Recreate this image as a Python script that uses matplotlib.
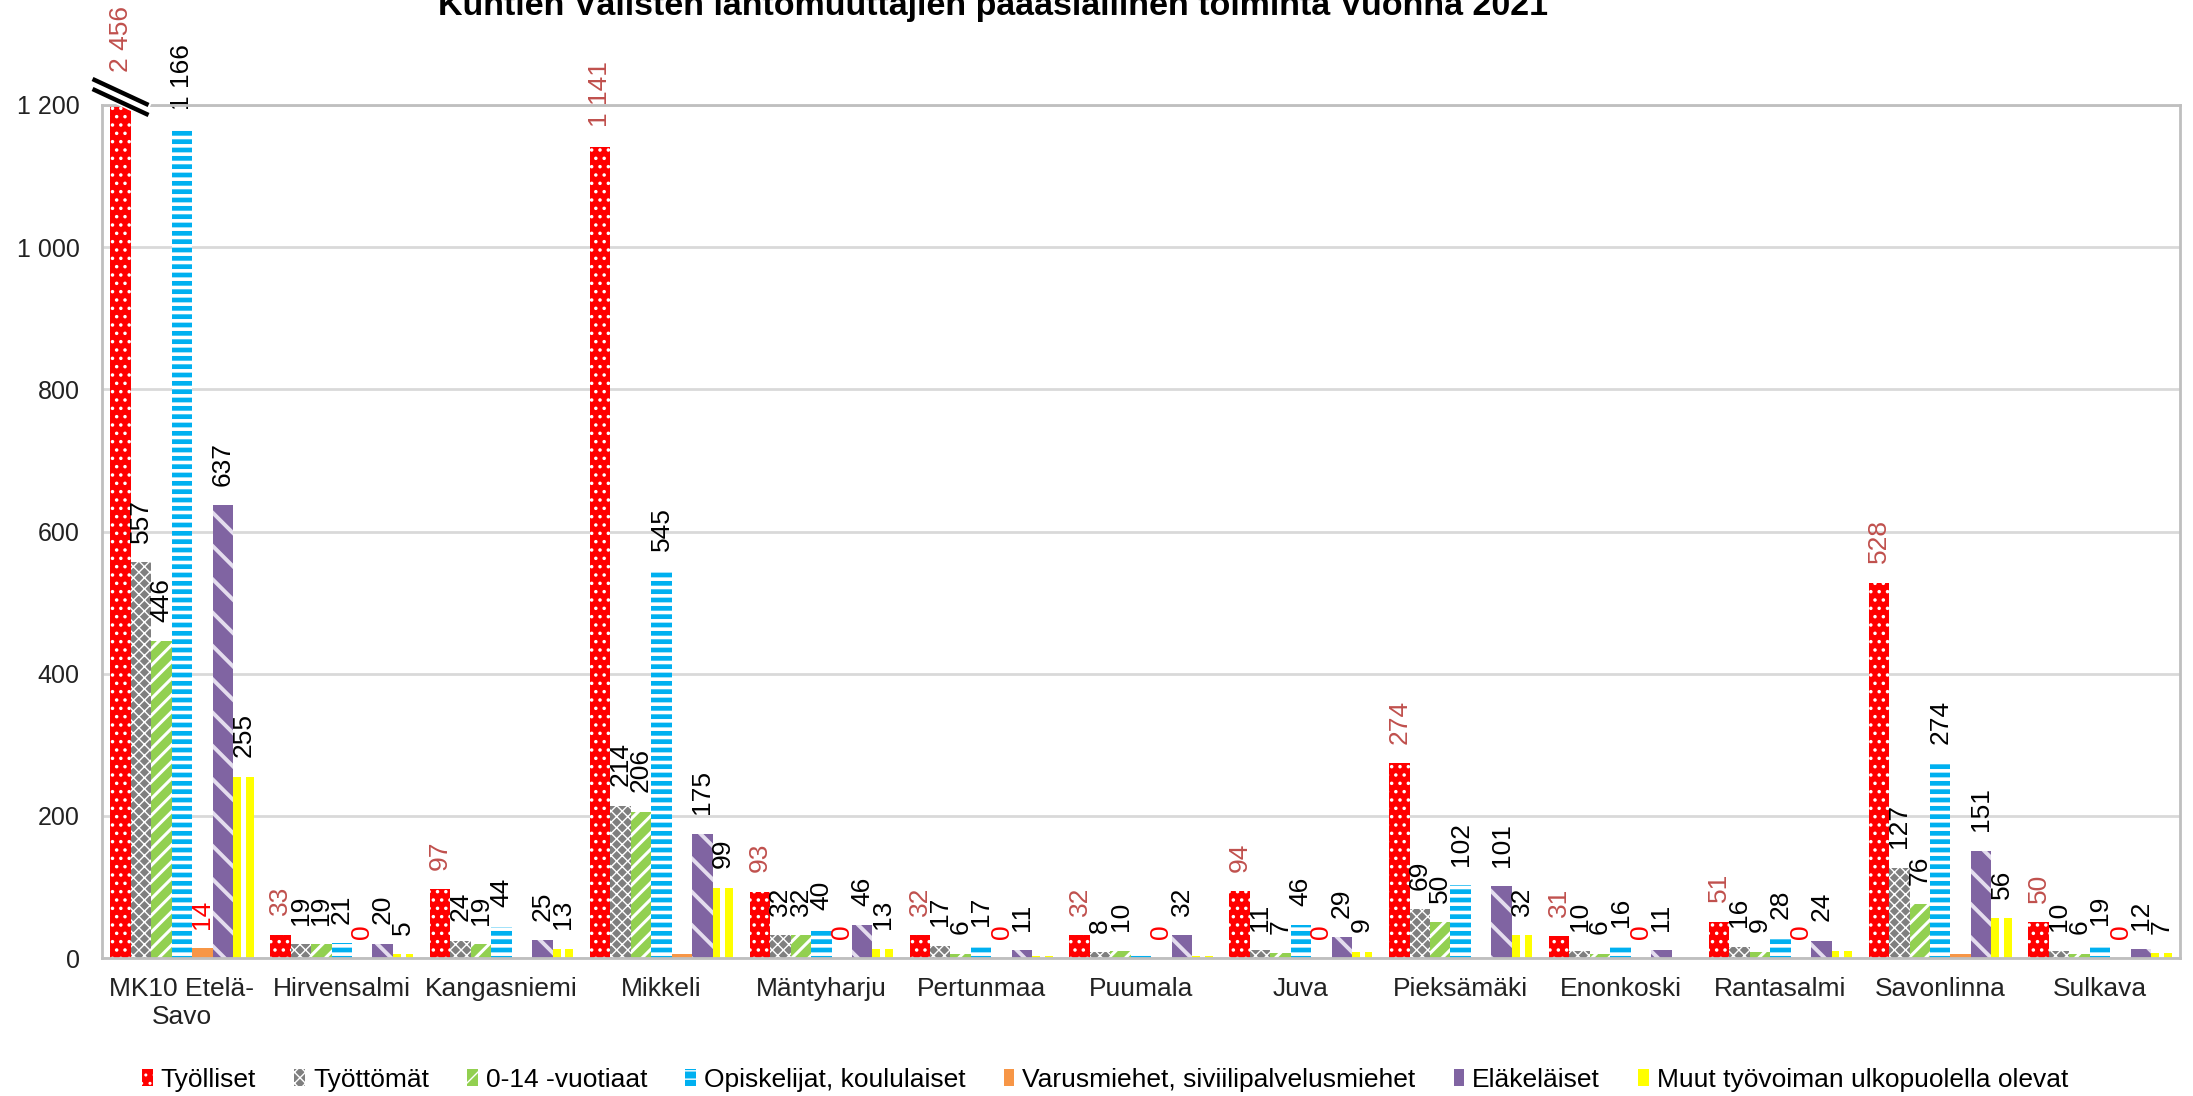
import matplotlib.pyplot as plt
import numpy as np
from matplotlib.lines import Line2D
from matplotlib.transforms import IdentityTransform

# data
categories = ['MK10 Etelä-\nSavo', 'Hirvensalmi', 'Kangasniemi', 'Mikkeli', 'Mäntyharju',
              'Pertunmaa', 'Puumala', 'Juva', 'Pieksämäki', 'Enonkoski', 'Rantasalmi',
              'Savonlinna', 'Sulkava']
tyolliset = [2456, 33, 97, 1141, 93, 32, 32, 94, 274, 31, 51, 528, 50]
tyottomat = [557, 19, 24, 214, 32, 17, 8, 11, 69, 10, 16, 127, 10]
lapset = [446, 19, 19, 206, 32, 6, 10, 7, 50, 6, 9, 76, 6]
opiskelijat = [1166, 21, 44, 545, 40, 17, 5, 46, 102, 16, 28, 274, 19]
varusmiehet = [14, 0, 0, 5, 0, 0, 0, 0, 0, 0, 0, 5, 0]
elakelaiset = [637, 20, 25, 175, 46, 11, 32, 29, 101, 11, 24, 151, 12]
muut = [255, 5, 13, 99, 13, 3, 3, 9, 32, 0, 10, 56, 7]

names = ['Työlliset', 'Työttömät', '0-14 -vuotiaat', 'Opiskelijat, koululaiset',
         'Varusmiehet, siviilipalvelusmiehet', 'Eläkeläiset',
         'Muut työvoiman ulkopuolella olevat']
series = [tyolliset, tyottomat, lapset, opiskelijat, varusmiehet, elakelaiset, muut]

# labels that are not shown in the original (series index, group index)
hidden = {(4, 2), (4, 3), (4, 8), (4, 11), (3, 6), (6, 5), (6, 6), (6, 9), (6, 10)}

# style per series: face, hatch, hatch colour, hatch linewidth, label colour
faces = ['#FF0000', '#7F7F7F', '#92D050', '#00B0F0', '#F79646', '#8064A2', '#FFFF00']
hatches = ['..', 'xxx', '//', '--', None, '\\', None]
hcolors = ['white', 'white', 'white', 'white', '#F79646', '#E4DDEE', '#FFFF00']
hwidths = [1.3, 1.0, 2.2, 2.6, 1.0, 2.8, 1.0]
lcolors = ['#C0504D', 'black', 'black', 'black', '#FF0000', 'black', 'black']

plt.rcParams['font.family'] = ['Liberation Sans', 'DejaVu Sans']

W, H = 2193, 1096
fig = plt.figure(figsize=(W / 100, H / 100), dpi=100)
ax = fig.add_axes([102 / W, 1 - 958 / H, 2078 / W, 853 / H])

ymax = 1200
x = np.arange(len(categories))
bw = 0.128
handles = []
for i, vals in enumerate(series):
    pos = x + (i - 3) * bw
    with plt.rc_context({'hatch.linewidth': hwidths[i]}):
        bars = ax.bar(pos, vals, bw, color=faces[i], edgecolor=hcolors[i],
                      linewidth=0, hatch=hatches[i], zorder=3, label=names[i])
    for b in bars:
        if hasattr(b, 'set_hatch_linewidth'):
            b.set_hatch_linewidth(hwidths[i])
    if i == 6:
        # white stripe in the middle of the yellow bars
        ax.bar(pos, vals, bw * 0.24, color='white', linewidth=0, zorder=4)
    handles.append(bars[0])
    for j, v in enumerate(vals):
        if (i, j) in hidden:
            continue
        off = 14
        if v > ymax:
            off = 24
        ax.annotate(f'{v:,}'.replace(',', ' '), (pos[j], min(v, ymax)),
                    xytext=(0, off), textcoords='offset points', rotation=90,
                    ha='center', va='bottom', fontsize=19, color=lcolors[i],
                    annotation_clip=False, zorder=5)

ax.set_xlim(-0.5, len(categories) - 0.5)
ax.set_ylim(0, ymax)
ax.set_yticks(np.arange(0, 1201, 200))
ax.set_yticklabels([f'{t:,}'.replace(',', ' ') for t in range(0, 1201, 200)])
ax.set_xticks(x)
ax.set_xticklabels(categories, linespacing=1.2)
ax.tick_params(axis='y', length=0, pad=16, labelsize=18, labelcolor='#222222')
ax.tick_params(axis='x', length=0, pad=14, labelsize=19, labelcolor='#222222')
ax.grid(axis='y', color='#D9D9D9', linewidth=2, zorder=0)
for s in ax.spines.values():
    s.set_color('#BFBFBF')
    s.set_linewidth(2)
    s.set_zorder(6)

# break marks on the clipped bar
bx = ax.transData.transform((x[0] - 3 * bw, ymax))
cx, cy = bx[0], bx[1] + 8
d = np.array([28, -13])
for lw, col, offs in [(12, 'white', [0]), (3.2, 'black', [-5, 5])]:
    for o in offs:
        fig.add_artist(Line2D([cx - d[0], cx + d[0]], [cy - d[1] + o, cy + d[1] + o],
                              transform=IdentityTransform(), color=col,
                              linewidth=lw, solid_capstyle='butt', zorder=7))

fig.text(0.453, 1 - 15 / H, 'Kuntien Välisten lähtömuuttajien pääasiallinen toiminta Vuonna 2021',
         ha='center', va='baseline', fontsize=24.5, fontweight='bold')

fig.legend(handles, names, loc='center', bbox_to_anchor=(0.504, 1 - 1080 / H), ncol=7,
           frameon=False, fontsize=19, handlelength=0.4, handleheight=0.6,
           handletextpad=0.3, columnspacing=1.45)

fig.savefig('out.png', dpi=100)
